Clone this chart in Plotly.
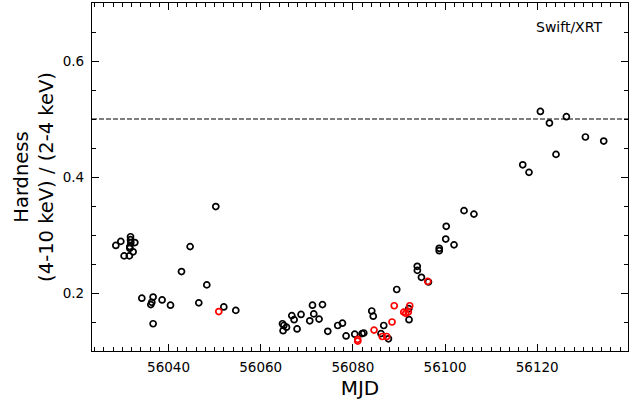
import plotly.graph_objects as go

# Black points (MJD, hardness)
black_mjd = [56028.57, 56029.65, 56031.76, 56031.76, 56031.82, 56032.69, 56031.6, 56031.6,
             56032.32, 56030.37, 56031.5, 56034.21, 56036.66, 56036.38, 56036.16, 56038.61,
             56040.43, 56036.66, 56042.82, 56044.69, 56046.57, 56048.31, 56050.26, 56052.0,
             56054.6, 56064.73, 56065.01, 56064.86, 56065.6, 56066.75, 56067.25, 56067.9,
             56068.76, 56071.24, 56071.52, 56070.65, 56072.67, 56073.41, 56074.56, 56076.72,
             56077.74, 56078.53, 56080.41, 56082.0, 56082.37, 56084.1, 56084.42, 56086.1,
             56086.7, 56087.72, 56089.52, 56092.13, 56092.19, 56093.97, 56094.0, 56094.88,
             56096.4, 56098.74, 56098.74, 56100.15, 56100.26, 56101.95, 56104.12, 56106.27,
             56116.86, 56118.22, 56120.69, 56122.65, 56124.08, 56126.33, 56130.46, 56134.43]
black_hr = [0.282, 0.289, 0.297, 0.292, 0.287, 0.287, 0.280, 0.277,
            0.271, 0.264, 0.264, 0.191, 0.193, 0.184, 0.180, 0.188,
            0.179, 0.147, 0.237, 0.280, 0.183, 0.214, 0.349, 0.176,
            0.170, 0.147, 0.144, 0.135, 0.141, 0.161, 0.154, 0.138,
            0.163, 0.179, 0.164, 0.152, 0.155, 0.180, 0.134, 0.144,
            0.148, 0.126, 0.129, 0.130, 0.131, 0.169, 0.160, 0.130,
            0.144, 0.121, 0.206, 0.173, 0.154, 0.246, 0.239, 0.227,
            0.219, 0.277, 0.273, 0.293, 0.315, 0.283, 0.342, 0.336,
            0.421, 0.408, 0.513, 0.493, 0.439, 0.504, 0.469, 0.462]

# Red points
red_mjd = [56050.91, 56081.06, 56081.06, 56084.6, 56086.38, 56087.35, 56088.5,
           56088.98, 56091.04, 56091.48, 56092.02, 56092.34, 56096.25]
red_hr = [0.168, 0.120, 0.117, 0.136, 0.125, 0.125, 0.150,
          0.178, 0.167, 0.165, 0.167, 0.178, 0.220]

ref_level = 0.5
x_range = [56023.4, 56139.7]
y_range = [0.1, 0.7]

FONT = "DejaVu Sans"

fig = go.Figure()
fig.add_trace(go.Scatter(x=black_mjd, y=black_hr, mode="markers",
                         marker=dict(symbol="circle-open", size=6, color="black",
                                     line=dict(width=1.7, color="black")),
                         showlegend=False))
fig.add_trace(go.Scatter(x=red_mjd, y=red_hr, mode="markers",
                         marker=dict(symbol="circle-open", size=6, color="red",
                                     line=dict(width=1.7, color="red")),
                         showlegend=False))
fig.add_hline(y=ref_level, line=dict(color="black", width=1.1, dash="5px,2px"))

fig.add_annotation(text="Swift/XRT", xref="paper", yref="paper", x=0.955, y=0.93,
                   xanchor="right", yanchor="middle", showarrow=False,
                   font=dict(family=FONT, size=14, color="black"))

axis_common = dict(showline=True, mirror="allticks", linecolor="black", linewidth=1.2,
                   ticks="inside", ticklen=7, tickwidth=1, tickcolor="black",
                   showgrid=False, zeroline=False,
                   tickfont=dict(family=FONT, size=13.5, color="black"))

fig.update_xaxes(range=x_range, tick0=56000, dtick=20, tickformat="d",
                 minor=dict(ticks="inside", dtick=2, ticklen=4, tickcolor="black"),
                 title=dict(text="MJD", font=dict(family=FONT, size=20, color="black"),
                            standoff=6),
                 ticklabelstandoff=4,
                 **axis_common)
fig.update_yaxes(range=y_range, tick0=0, dtick=0.2, tickformat=".1f",
                 minor=dict(ticks="inside", dtick=0.05, ticklen=4, tickcolor="black"),
                 title=dict(text="Hardness<br>(4-10 keV) / (2-4 keV)",
                            font=dict(family=FONT, size=19.5, color="black"),
                            standoff=3),
                 ticklabelstandoff=4,
                 **axis_common)

fig.update_layout(width=636, height=401,
                  margin=dict(l=92, r=8, t=3, b=50),
                  plot_bgcolor="white", paper_bgcolor="white",
                  font=dict(family=FONT, color="black"))

fig.write_html("out.html")
